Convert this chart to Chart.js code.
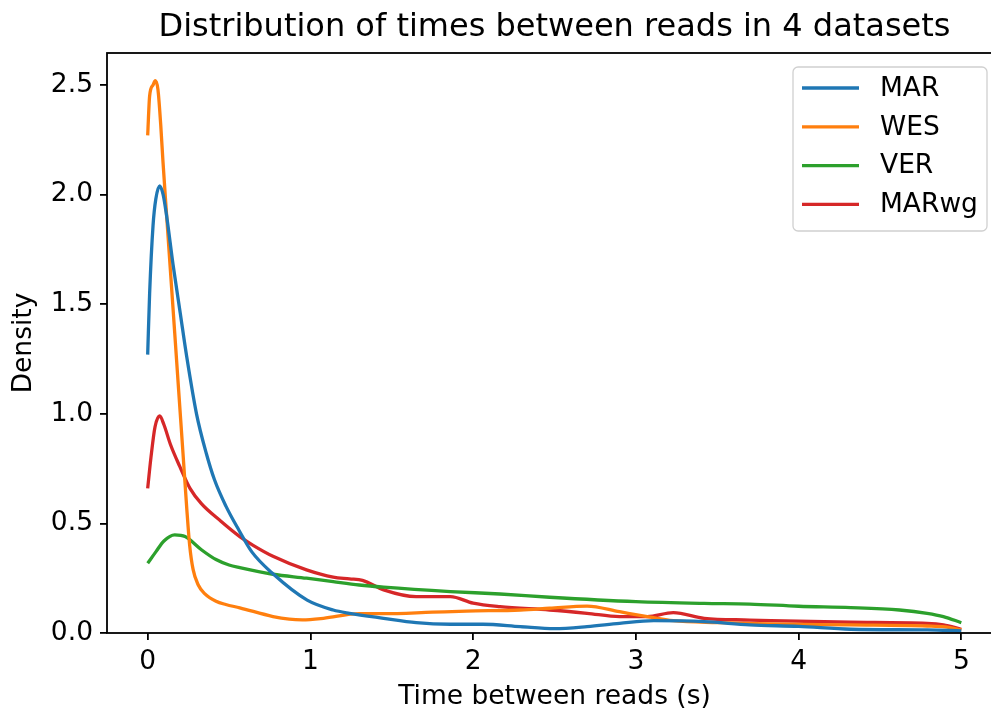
<!DOCTYPE html>
<html>
<head>
<meta charset="utf-8">
<script src="https://cdn.jsdelivr.net/npm/chart.js@4"></script>
<style>
  html, body { margin:0; padding:0; background:#fff; overflow:hidden; }
  #wrap { width:1010px; height:713px; }
</style>
</head>
<body>
<div id="wrap"><canvas id="c" width="1010" height="713"></canvas></div>
<script>
// ---- data ----
const TITLE = 'Distribution of times between reads in 4 datasets';
const X_LABEL = 'Time between reads (s)';
const Y_LABEL = 'Density';
const seriesNames = ['MAR', 'WES', 'VER', 'MARwg'];
const seriesColors = ['#1f77b4', '#ff7f0e', '#2ca02c', '#d62728'];

const xTicks = [0, 1, 2, 3, 4, 5];
const xTickLabels = ['0', '1', '2', '3', '4', '5'];
const yTicks = [0, 0.5, 1.0, 1.5, 2.0, 2.5];
const yTickLabels = ['0.0', '0.5', '1.0', '1.5', '2.0', '2.5'];

const marX = [0, 0.012, 0.033, 0.05, 0.074, 0.095, 0.115, 0.156, 0.2, 0.24, 0.30, 0.36, 0.41, 0.48, 0.56, 0.64, 0.77, 0.98, 1.14, 1.24, 1.45, 1.65, 1.86, 2.06, 2.29, 2.5, 2.7, 2.9, 3.11, 3.42, 3.7, 4.0, 4.32, 4.79, 5.0];
const marY = [1.27, 1.55, 1.86, 1.98, 2.04, 2.0, 1.91, 1.68, 1.46, 1.26, 1.00, 0.82, 0.70, 0.58, 0.47, 0.37, 0.27, 0.15, 0.105, 0.09, 0.067, 0.047, 0.04, 0.04, 0.029, 0.02, 0.029, 0.044, 0.056, 0.052, 0.037, 0.03, 0.017, 0.014, 0.01];

const wesX = [0, 0.012, 0.033, 0.047, 0.063, 0.08, 0.094, 0.115, 0.14, 0.166, 0.19, 0.217, 0.24, 0.258, 0.279, 0.31, 0.35, 0.42, 0.48, 0.566, 0.77, 0.87, 0.95, 1.08, 1.3, 1.45, 1.75, 1.96, 2.29, 2.47, 2.7, 2.9, 3.07, 3.23, 3.5, 3.83, 4.32, 4.79, 4.9, 5.0];
const wesY = [2.27, 2.45, 2.50, 2.52, 2.48, 2.32, 2.15, 1.92, 1.65, 1.37, 1.11, 0.82, 0.57, 0.40, 0.29, 0.22, 0.18, 0.145, 0.13, 0.115, 0.075, 0.063, 0.06, 0.067, 0.088, 0.088, 0.095, 0.10, 0.105, 0.113, 0.123, 0.097, 0.075, 0.056, 0.047, 0.041, 0.037, 0.032, 0.028, 0.014];

const verX = [0, 0.05, 0.1, 0.166, 0.23, 0.33, 0.42, 0.5, 0.566, 0.77, 0.976, 1.14, 1.3, 1.45, 1.86, 2.165, 2.47, 3.0, 3.42, 3.7, 4.0, 4.32, 4.62, 4.79, 4.89, 5.0];
const verY = [0.318, 0.37, 0.42, 0.448, 0.44, 0.38, 0.335, 0.31, 0.298, 0.268, 0.25, 0.234, 0.219, 0.209, 0.189, 0.178, 0.163, 0.143, 0.135, 0.132, 0.122, 0.116, 0.105, 0.09, 0.075, 0.047];

const mwgX = [0, 0.02, 0.045, 0.074, 0.1, 0.14, 0.197, 0.26, 0.33, 0.45, 0.566, 0.648, 0.77, 0.976, 1.14, 1.24, 1.32, 1.45, 1.65, 1.86, 2.0, 2.165, 2.47, 2.7, 2.9, 3.07, 3.23, 3.42, 3.7, 3.83, 4.32, 4.79, 4.89, 5.0];
const mwgY = [0.66, 0.80, 0.94, 0.99, 0.95, 0.86, 0.76, 0.66, 0.59, 0.51, 0.44, 0.40, 0.35, 0.288, 0.255, 0.247, 0.24, 0.197, 0.166, 0.166, 0.136, 0.12, 0.105, 0.09, 0.075, 0.075, 0.093, 0.067, 0.059, 0.056, 0.049, 0.044, 0.037, 0.017];

// ---- build chart ----
const seriesX = [marX, wesX, verX, mwgX];
const seriesY = [marY, wesY, verY, mwgY];
const LINE_W = 3.3;
const datasets = seriesNames.map((name, i) => ({
  label: name,
  data: seriesX[i].map((x, j) => ({ x: x, y: seriesY[i][j] })),
  borderColor: seriesColors[i],
  backgroundColor: seriesColors[i],
  borderWidth: LINE_W,
  pointRadius: 0,
  fill: false,
  cubicInterpolationMode: 'monotone'
}));

const FONT = '"DejaVu Sans", "Liberation Sans", sans-serif';
const FS = 26.5;

const decorPlugin = {
  id: 'decor',
  afterDraw(chart) {
    const { ctx, chartArea: a } = chart;
    ctx.save();
    // frame
    ctx.strokeStyle = '#000';
    ctx.lineWidth = 1.8;
    ctx.strokeRect(a.left, a.top, a.right - a.left, a.bottom - a.top);
    // title
    ctx.fillStyle = '#000';
    ctx.font = '32px ' + FONT;
    ctx.textAlign = 'center';
    ctx.textBaseline = 'middle';
    ctx.fillText(TITLE, (a.left + a.right) / 2, 28);
    // legend
    const lx = 793, ly = 67, lw = 194, lh = 164;
    ctx.beginPath();
    if (ctx.roundRect) ctx.roundRect(lx, ly, lw, lh, 5); else ctx.rect(lx, ly, lw, lh);
    ctx.fillStyle = 'rgba(255,255,255,0.85)';
    ctx.fill();
    ctx.strokeStyle = '#d0d0d0';
    ctx.lineWidth = 1.3;
    ctx.stroke();
    ctx.font = FS + 'px ' + FONT;
    ctx.textAlign = 'left';
    ctx.textBaseline = 'middle';
    chart.data.datasets.forEach((ds, i) => {
      const y = 88 + i * 38.8;
      ctx.strokeStyle = ds.borderColor;
      ctx.lineWidth = LINE_W;
      ctx.beginPath();
      ctx.moveTo(802, y);
      ctx.lineTo(859, y);
      ctx.stroke();
      ctx.fillStyle = '#000';
      ctx.fillText(ds.label, 880, y + 1);
    });
    ctx.restore();
  }
};

new Chart(document.getElementById('c'), {
  type: 'line',
  data: { datasets },
  options: {
    responsive: false,
    animation: false,
    devicePixelRatio: 1,
    layout: { padding: { top: 53, right: 8, left: 0, bottom: 0 } },
    plugins: { legend: { display: false }, title: { display: false }, tooltip: { enabled: false } },
    scales: {
      x: {
        type: 'linear',
        min: -0.25,
        max: 5.25,
        afterBuildTicks: (s) => { s.ticks = xTicks.map(v => ({ value: v })); },
        afterFit: (s) => { s.height = 80; },
        ticks: {
          autoSkip: false, maxRotation: 0, color: '#000', padding: 6,
          font: { family: FONT, size: FS },
          callback: (v) => { const k = xTicks.indexOf(v); return k >= 0 ? xTickLabels[k] : ''; }
        },
        grid: { drawOnChartArea: false, drawTicks: true, tickLength: 7, color: '#000', lineWidth: 1.8 },
        border: { display: false },
        title: { display: true, text: X_LABEL, color: '#000', font: { family: FONT, size: FS }, padding: { top: 0, bottom: 0 } }
      },
      y: {
        type: 'linear',
        min: 0,
        max: 2.646,
        afterBuildTicks: (s) => { s.ticks = yTicks.map(v => ({ value: v })); },
        afterFit: (s) => { s.width = 107; },
        ticks: {
          autoSkip: false, color: '#000', padding: 7,
          font: { family: FONT, size: FS },
          callback: (v) => { const k = yTicks.indexOf(v); return k >= 0 ? yTickLabels[k] : ''; }
        },
        grid: { drawOnChartArea: false, drawTicks: true, tickLength: 7, color: '#000', lineWidth: 1.8 },
        border: { display: false },
        title: { display: true, text: Y_LABEL, color: '#000', font: { family: FONT, size: FS }, padding: { top: 8, bottom: 0 } }
      }
    }
  },
  plugins: [decorPlugin]
});
</script>
</body>
</html>
